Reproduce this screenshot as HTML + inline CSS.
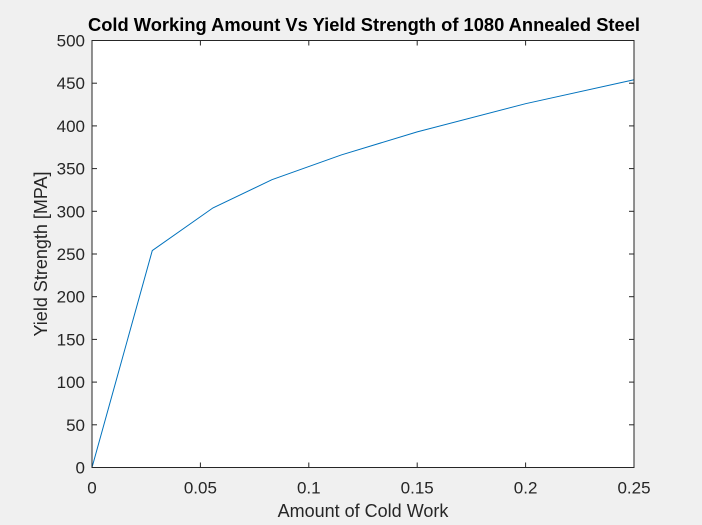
<!DOCTYPE html>
<html><head><meta charset="utf-8"><style>
html,body{margin:0;padding:0;background:#f0f0f0;}
svg{display:block;font-family:"Liberation Sans",Arial,sans-serif;}
</style></head><body>
<svg id="chart" width="702" height="525">
<rect x="0" y="0" width="702" height="525" fill="#f0f0f0"/>
<rect x="92" y="40.5" width="542" height="427" fill="#fff"/>
<g id="grid"></g>
<polyline id="series" fill="none" stroke="#0072bd" stroke-width="1"/>
<rect x="92" y="40.5" width="542" height="427" fill="none" stroke="#262626" stroke-width="1"/>
<text x="364" y="31" text-anchor="middle" font-size="18" font-weight="bold" fill="#000" textLength="552" lengthAdjust="spacingAndGlyphs">Cold Working Amount Vs Yield Strength of 1080 Annealed Steel</text>
<text x="363" y="517" text-anchor="middle" font-size="18" fill="#262626">Amount of Cold Work</text>
<text transform="translate(47,254) rotate(-90)" text-anchor="middle" font-size="18" fill="#262626">Yield Strength [MPA]</text>
</svg>
<script>
const xVals=[0,0.0278,0.0558,0.083,0.115,0.15,0.2,0.25];
const yVals=[0,254,304,337,366,393,426,454];
const xTicks=[0,0.05,0.1,0.15,0.2,0.25];
const xTickLabels=["0","0.05","0.1","0.15","0.2","0.25"];
const yTicks=[0,50,100,150,200,250,300,350,400,450,500];
const yTickLabels=["0","50","100","150","200","250","300","350","400","450","500"];
const L=92,R=634,T=40.5,B=467.5;
function sx(v){return L+(v-0)/(0.25-0)*(R-L);}
function sy(v){return B-(v-0)/(500-0)*(B-T);}
const NS="http://www.w3.org/2000/svg";
const g=document.getElementById('grid');
function mk(tag,attrs){const e=document.createElementNS(NS,tag);for(const k in attrs)e.setAttribute(k,attrs[k]);return e;}
xTicks.forEach((v,i)=>{
  const x=sx(v);
  const t1=mk('line',{x1:x,x2:x,y1:B,y2:B-5,stroke:'#262626'});
  
  
  g.appendChild(t1);
  const t2=mk('line',{x1:x,x2:x,y1:T,y2:T+5,stroke:'#262626'});
  
  
  g.appendChild(t2);
  const tx=mk('text',{x:x,y:B+26,'text-anchor':'middle','font-size':'17',fill:'#262626'});
  tx.textContent=xTickLabels[i];
  
  
  g.appendChild(tx);
});
yTicks.forEach((v,i)=>{
  const y=sy(v);
  const t1=mk('line',{x1:L,x2:L+5,y1:y,y2:y,stroke:'#262626'});
  
  
  g.appendChild(t1);
  const t2=mk('line',{x1:R,x2:R-5,y1:y,y2:y,stroke:'#262626'});
  
  
  g.appendChild(t2);
  const tx=mk('text',{x:L-7,y:y+6,'text-anchor':'end','font-size':'17',fill:'#262626'});
  tx.textContent=yTickLabels[i];
  
  
  g.appendChild(tx);
});
document.getElementById('series').setAttribute('points',xVals.map((v,i)=>sx(v)+','+sy(yVals[i])).join(' '));
</script>
</body></html>
